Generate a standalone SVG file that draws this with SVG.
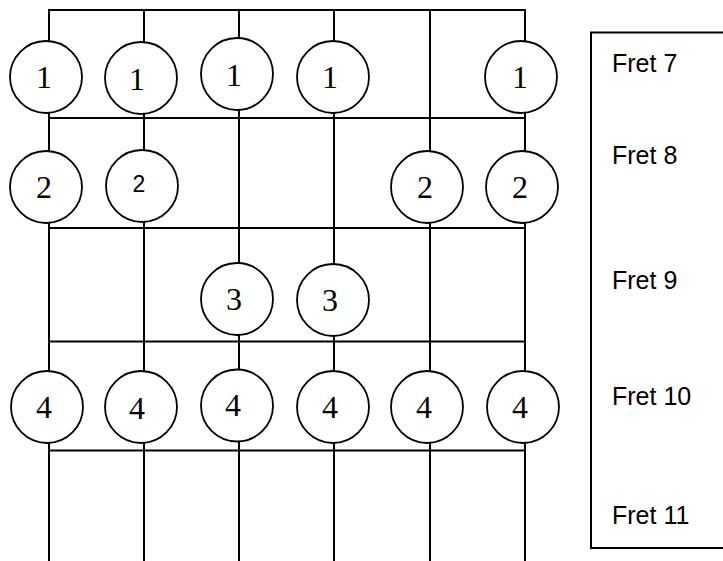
<svg xmlns="http://www.w3.org/2000/svg" width="723" height="561" viewBox="0 0 723 561">
<style>
.ln{stroke:#000;stroke-width:2;fill:none}
.nt circle{fill:#fff;stroke:#000;stroke-width:1.8}
.nt text{font-family:"Liberation Serif","Times New Roman",serif;font-size:32px;fill:#000;text-anchor:middle}
.nt text.sans{font-family:"Liberation Sans",Arial,sans-serif;font-size:23px}
.lbl{font-family:"Liberation Sans",Arial,sans-serif;font-size:25px;fill:#000}
</style>
<rect width="723" height="561" fill="#fff"/>
<g id="connectors" class="ln">
<line x1="49" y1="10" x2="526" y2="10"/>
<line x1="49" y1="118" x2="526" y2="118"/>
<line x1="49" y1="228" x2="526" y2="228"/>
<line x1="49" y1="341.5" x2="526" y2="341.5"/>
<line x1="49" y1="450.5" x2="526" y2="450.5"/>
<line x1="49" y1="9" x2="49" y2="561"/>
<line x1="144" y1="9" x2="144" y2="561"/>
<line x1="239" y1="9" x2="239" y2="561"/>
<line x1="334" y1="9" x2="334" y2="561"/>
<line x1="430" y1="9" x2="430" y2="561"/>
<line x1="525" y1="9" x2="525" y2="561"/>
</g>
<g id="n1-1" class="nt"><circle cx="46" cy="77" r="36"/><text x="44" y="88">1</text></g>
<g id="n1-2" class="nt"><circle cx="141" cy="78" r="36"/><text x="137" y="90">1</text></g>
<g id="n1-3" class="nt"><circle cx="237" cy="74" r="36"/><text x="234" y="86">1</text></g>
<g id="n1-4" class="nt"><circle cx="333" cy="77" r="36"/><text x="330" y="88">1</text></g>
<g id="n1-6" class="nt"><circle cx="521" cy="77" r="36"/><text x="520" y="88">1</text></g>
<g id="n2-1" class="nt"><circle cx="46" cy="187" r="36"/><text x="44" y="198">2</text></g>
<g id="n2-2" class="nt"><circle cx="142" cy="186" r="36"/><text class="sans" x="139" y="192">2</text></g>
<g id="n2-5" class="nt"><circle cx="427" cy="187" r="36"/><text x="425" y="198">2</text></g>
<g id="n2-6" class="nt"><circle cx="522" cy="187" r="36"/><text x="520" y="198">2</text></g>
<g id="n3-3" class="nt"><circle cx="237" cy="299" r="36"/><text x="234" y="310">3</text></g>
<g id="n3-4" class="nt"><circle cx="333" cy="300" r="36"/><text x="330" y="311">3</text></g>
<g id="n4-1" class="nt"><circle cx="47" cy="407" r="36"/><text x="44" y="418">4</text></g>
<g id="n4-2" class="nt"><circle cx="141" cy="407" r="36"/><text x="137" y="419">4</text></g>
<g id="n4-3" class="nt"><circle cx="237" cy="405.5" r="36"/><text x="233" y="416">4</text></g>
<g id="n4-4" class="nt"><circle cx="333" cy="407" r="36"/><text x="330" y="418">4</text></g>
<g id="n4-5" class="nt"><circle cx="427" cy="407" r="36"/><text x="424" y="418">4</text></g>
<g id="n4-6" class="nt"><circle cx="523" cy="407" r="36"/><text x="520" y="418">4</text></g>
<g id="legend">
<path class="ln" d="M724 32.5 H591 V548 H724"/>
<text class="lbl" x="612" y="72">Fret 7</text>
<text class="lbl" x="612" y="164">Fret 8</text>
<text class="lbl" x="612" y="289">Fret 9</text>
<text class="lbl" x="612" y="405">Fret 10</text>
<text class="lbl" x="612" y="524">Fret 11</text>
</g>
</svg>
